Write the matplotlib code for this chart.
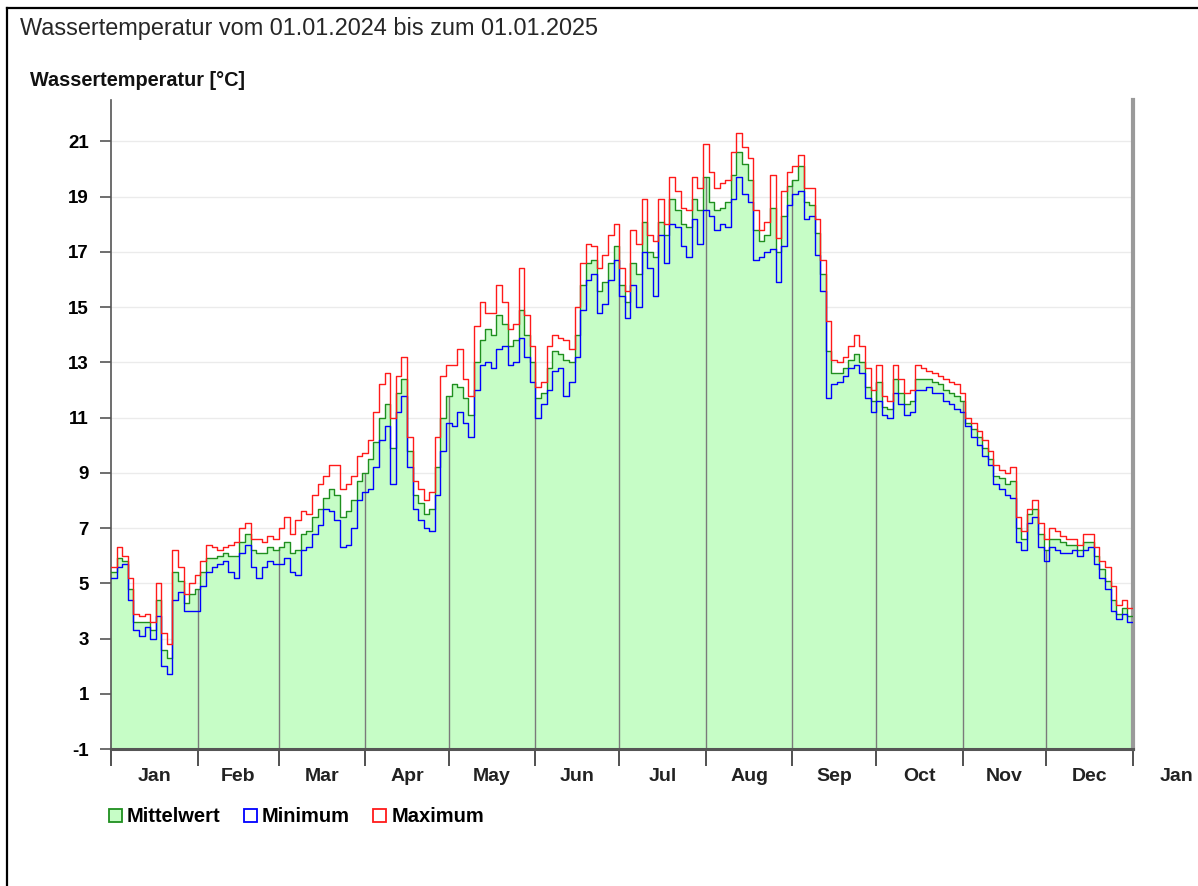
import numpy as np
import pandas as pd
import matplotlib
matplotlib.use('Agg')
import matplotlib.pyplot as plt
import matplotlib.dates as mdates
from matplotlib.patches import Patch
from matplotlib.lines import Line2D

FONT = 'Liberation Sans'
plt.rcParams['font.family'] = [FONT, 'DejaVu Sans']

# water temperature in 2-day steps, 01.01.2024 - 31.12.2024 (one value per two days)
mittel = [
    # Jan
    5.4, 5.9, 5.8, 4.8, 3.6, 3.6, 3.6, 3.3, 4.4, 2.6, 2.3, 5.4, 5.1, 4.3, 4.6, 4.8,
    # Feb
    5.4, 5.9, 5.9, 6.0, 6.1, 6.0, 6.0, 6.5, 6.8, 6.2, 6.1, 6.1, 6.3, 6.2,
    # Mar
    6.3, 6.5, 6.1, 6.2, 6.8, 6.9, 7.4, 7.7, 8.1, 8.4, 8.2, 7.4, 7.6, 8.0, 8.7, 9.0,
    # Apr
    9.5, 10.1, 11.0, 11.5, 9.9, 11.9, 12.4, 9.8, 8.2, 7.9, 7.5, 7.7, 9.2, 11.0, 11.8,
    # May
    12.2, 12.1, 11.7, 11.1, 13.0, 13.8, 14.2, 14.0, 14.7, 14.4, 13.6, 13.8, 14.9, 14.0, 13.0,
    # Jun
    11.7, 11.9, 12.8, 13.4, 13.3, 13.1, 13.0, 14.0, 15.8, 16.6, 16.7, 15.6, 15.9, 16.6, 17.2,
    # Jul
    15.8, 15.2, 16.6, 16.2, 18.1, 17.0, 16.8, 18.1, 17.6, 18.9, 18.5, 18.0, 17.9, 18.9, 18.5, 19.7,
    # Aug
    18.8, 18.5, 18.6, 18.8, 19.8, 20.6, 20.2, 19.6, 17.8, 17.4, 17.6, 18.6, 17.0, 18.3, 19.4,
    # Sep
    19.6, 20.1, 18.8, 18.7, 17.7, 16.2, 13.4, 12.6, 12.6, 12.8, 13.1, 13.3, 13.0, 12.1, 11.6,
    # Oct
    12.3, 11.4, 11.3, 12.4, 11.9, 11.5, 11.6, 12.4, 12.4, 12.4, 12.3, 12.2, 12.0, 11.9, 11.8, 11.6,
    # Nov
    10.8, 10.6, 10.3, 9.9, 9.5, 8.9, 8.8, 8.6, 8.7, 7.0, 6.6, 7.5, 7.7, 6.8, 6.2,
    # Dec
    6.6, 6.6, 6.5, 6.4, 6.4, 6.2, 6.5, 6.5, 6.0, 5.5, 5.1, 4.4, 3.9, 4.1, 3.8,
]

minimum = [
    5.2, 5.6, 5.7, 4.4, 3.3, 3.1, 3.4, 3.0, 3.8, 2.0, 1.7, 4.4, 4.7, 4.0, 4.0, 4.0,
    4.9, 5.4, 5.6, 5.7, 5.8, 5.4, 5.2, 6.1, 6.4, 5.6, 5.2, 5.6, 5.8, 5.7,
    5.7, 5.9, 5.4, 5.3, 6.2, 6.3, 6.8, 7.1, 7.7, 7.6, 7.3, 6.3, 6.4, 7.0, 8.0, 8.3,
    8.4, 9.2, 10.2, 10.7, 8.6, 11.2, 11.8, 9.2, 7.7, 7.3, 7.0, 6.9, 8.2, 9.8, 10.8,
    10.7, 11.2, 10.8, 10.3, 12.0, 12.9, 13.0, 12.8, 13.5, 13.6, 12.9, 13.0, 13.9, 13.2, 12.3,
    11.0, 11.5, 12.0, 12.7, 12.8, 11.8, 12.3, 13.2, 14.9, 16.0, 16.2, 14.8, 15.1, 16.0, 16.7,
    15.4, 14.6, 15.8, 15.0, 17.0, 16.4, 15.4, 17.6, 16.6, 18.0, 17.9, 17.2, 16.8, 18.2, 17.3, 18.5,
    18.3, 17.8, 18.0, 17.9, 18.9, 19.7, 19.1, 18.8, 16.7, 16.8, 17.0, 17.1, 15.9, 17.2, 18.7,
    19.1, 19.2, 18.2, 18.3, 16.9, 15.6, 11.7, 12.2, 12.3, 12.5, 12.8, 12.9, 12.6, 11.7, 11.2,
    11.6, 11.1, 11.0, 11.9, 11.5, 11.1, 11.2, 12.0, 12.0, 12.1, 11.9, 11.9, 11.6, 11.5, 11.3, 11.2,
    10.7, 10.3, 10.0, 9.6, 9.3, 8.6, 8.4, 8.2, 8.1, 6.5, 6.2, 7.2, 7.4, 6.3, 5.8,
    6.3, 6.2, 6.1, 6.1, 6.2, 6.0, 6.2, 6.3, 5.7, 5.2, 4.8, 4.0, 3.7, 3.9, 3.6,
]

maximum = [
    5.6, 6.3, 6.0, 5.2, 3.9, 3.8, 3.9, 3.6, 5.0, 3.2, 2.8, 6.2, 5.6, 4.6, 5.0, 5.3,
    5.8, 6.4, 6.3, 6.2, 6.3, 6.4, 6.5, 7.0, 7.2, 6.6, 6.6, 6.5, 6.7, 6.6,
    7.0, 7.4, 6.8, 7.3, 7.6, 7.5, 8.2, 8.6, 8.9, 9.3, 9.3, 8.4, 8.6, 8.9, 9.6, 9.7,
    10.2, 11.2, 12.2, 12.6, 11.0, 12.5, 13.2, 10.3, 8.7, 8.4, 8.0, 8.3, 10.3, 12.5, 12.9,
    12.9, 13.5, 12.4, 11.8, 14.3, 15.2, 14.8, 14.8, 15.8, 15.2, 14.2, 14.4, 16.4, 14.7, 13.6,
    12.1, 12.3, 13.6, 14.0, 13.9, 13.8, 13.5, 15.0, 16.6, 17.3, 17.2, 16.4, 16.9, 17.6, 18.0,
    16.4, 15.6, 17.8, 17.3, 18.9, 17.6, 17.4, 18.9, 18.0, 19.7, 19.2, 18.6, 18.5, 19.7, 19.3, 20.9,
    19.9, 19.3, 19.5, 19.6, 20.6, 21.3, 20.8, 20.4, 18.5, 17.8, 18.1, 19.8, 17.5, 19.2, 19.9,
    20.1, 20.5, 19.3, 19.3, 18.2, 16.7, 14.5, 13.1, 13.0, 13.2, 13.6, 14.0, 13.6, 12.8, 12.0,
    12.9, 11.8, 11.6, 12.9, 12.4, 11.9, 12.0, 12.9, 12.8, 12.7, 12.6, 12.5, 12.4, 12.3, 12.2, 11.9,
    11.0, 10.8, 10.5, 10.2, 9.8, 9.3, 9.1, 9.0, 9.2, 7.4, 6.9, 7.7, 8.0, 7.2, 6.6,
    7.0, 6.9, 6.7, 6.6, 6.6, 6.4, 6.8, 6.8, 6.3, 5.8, 5.6, 4.9, 4.2, 4.4, 4.1,
]

month_names = ['Jan', 'Feb', 'Mar', 'Apr', 'May', 'Jun', 'Jul', 'Aug', 'Sep', 'Oct', 'Nov', 'Dec', 'Jan']
y_ticks = list(range(-1, 22, 2))

FILL = '#c6fdc6'
GREEN = '#1f8f1f'
BLUE = '#0000ff'
RED = '#ff1a1a'

start = pd.Timestamp('2024-01-01')
end = pd.Timestamp('2025-01-01')
dates = pd.date_range(start, periods=len(mittel), freq='2D')
x = mdates.date2num(list(dates) + [end])


def stepvals(v):
    return np.append(v, v[-1])


fig = plt.figure(figsize=(11.98, 8.86), dpi=100)
ax = fig.add_axes([111 / 1198, 1 - 749 / 886, (1133 - 111) / 1198, (749 - 100) / 886])

ax.fill_between(x, -1, stepvals(mittel), step='post', color=FILL, lw=0, zorder=1)
ax.step(x, stepvals(mittel), where='post', color=GREEN, lw=1.0, zorder=3)
ax.step(x, stepvals(minimum), where='post', color=BLUE, lw=1.0, zorder=4)
ax.step(x, stepvals(maximum), where='post', color=RED, lw=1.0, zorder=5)

month_starts = pd.date_range(start, end, freq='MS')
for d in month_starts[1:-1]:
    idx = (d - start).days // 2
    ax.vlines(mdates.date2num(d), -1, mittel[idx], color='#7a7a7a', lw=1, zorder=2)

ax.set_xlim(x[0], x[-1])
ax.set_ylim(-1, 22.5)

ax.set_yticks(y_ticks, labels=[str(t) for t in y_ticks])
for lab in ax.get_yticklabels():
    lab.set_fontweight('bold')
ax.tick_params(axis='y', length=8, pad=8, labelsize=13.5, color='#555555', width=1.2)
ax.grid(axis='y', color='#ebebeb', lw=1)
ax.set_axisbelow(True)

ax.set_xticks(mdates.date2num(month_starts), labels=[''] * len(month_starts))
ax.tick_params(axis='x', length=12, width=1.2, color='#333333')

# month names centred between the ticks, last "Jan" sits outside the plot
month_ends = list(month_starts[1:]) + [pd.Timestamp('2025-02-01')]
for name, a, b in zip(month_names, month_starts, month_ends):
    mid = mdates.date2num(a) + (mdates.date2num(b) - mdates.date2num(a)) / 2
    ax.text(mid, -0.042, name, transform=ax.get_xaxis_transform(), ha='center', va='center',
            fontsize=14, fontweight='bold', color='#222222', clip_on=False)

ax.spines['top'].set_visible(False)
ax.spines['left'].set_color('#555555')
ax.spines['left'].set_linewidth(1.2)
ax.spines['bottom'].set_color('#555555')
ax.spines['bottom'].set_linewidth(2.2)
ax.spines['right'].set_color('#9a9a9a')
ax.spines['right'].set_linewidth(3)

fig.text(20 / 1198, 1 - 28 / 886, 'Wassertemperatur vom 01.01.2024 bis zum 01.01.2025',
         fontsize=16.9, color='#262626', ha='left', va='center')
fig.text(30 / 1198, 1 - 80 / 886, 'Wassertemperatur [°C]', fontsize=14.3, fontweight='bold',
         color='#111111', ha='left', va='center')

handles = [Patch(facecolor=FILL, edgecolor=GREEN, lw=1.3),
           Patch(facecolor='white', edgecolor=BLUE, lw=1.3),
           Patch(facecolor='white', edgecolor=RED, lw=1.3)]
fig.legend(handles, ['Mittelwert', 'Minimum', 'Maximum'], loc='center left',
           bbox_to_anchor=(109 / 1198, 1 - 817 / 886), ncol=3, frameon=False,
           prop=dict(family=FONT, weight='bold', size=14.5),
           handlelength=0.65, handleheight=0.65, handletextpad=0.25,
           columnspacing=1.15, borderaxespad=0, borderpad=0)

# outer frame of the page
fig.add_artist(Line2D([7 / 1198, 7 / 1198], [0, 1 - 8 / 886], transform=fig.transFigure,
                      color='black', lw=1.6))
fig.add_artist(Line2D([7 / 1198, 1], [1 - 8 / 886, 1 - 8 / 886], transform=fig.transFigure,
                      color='black', lw=1.6))

fig.savefig('out.png', dpi=100)
